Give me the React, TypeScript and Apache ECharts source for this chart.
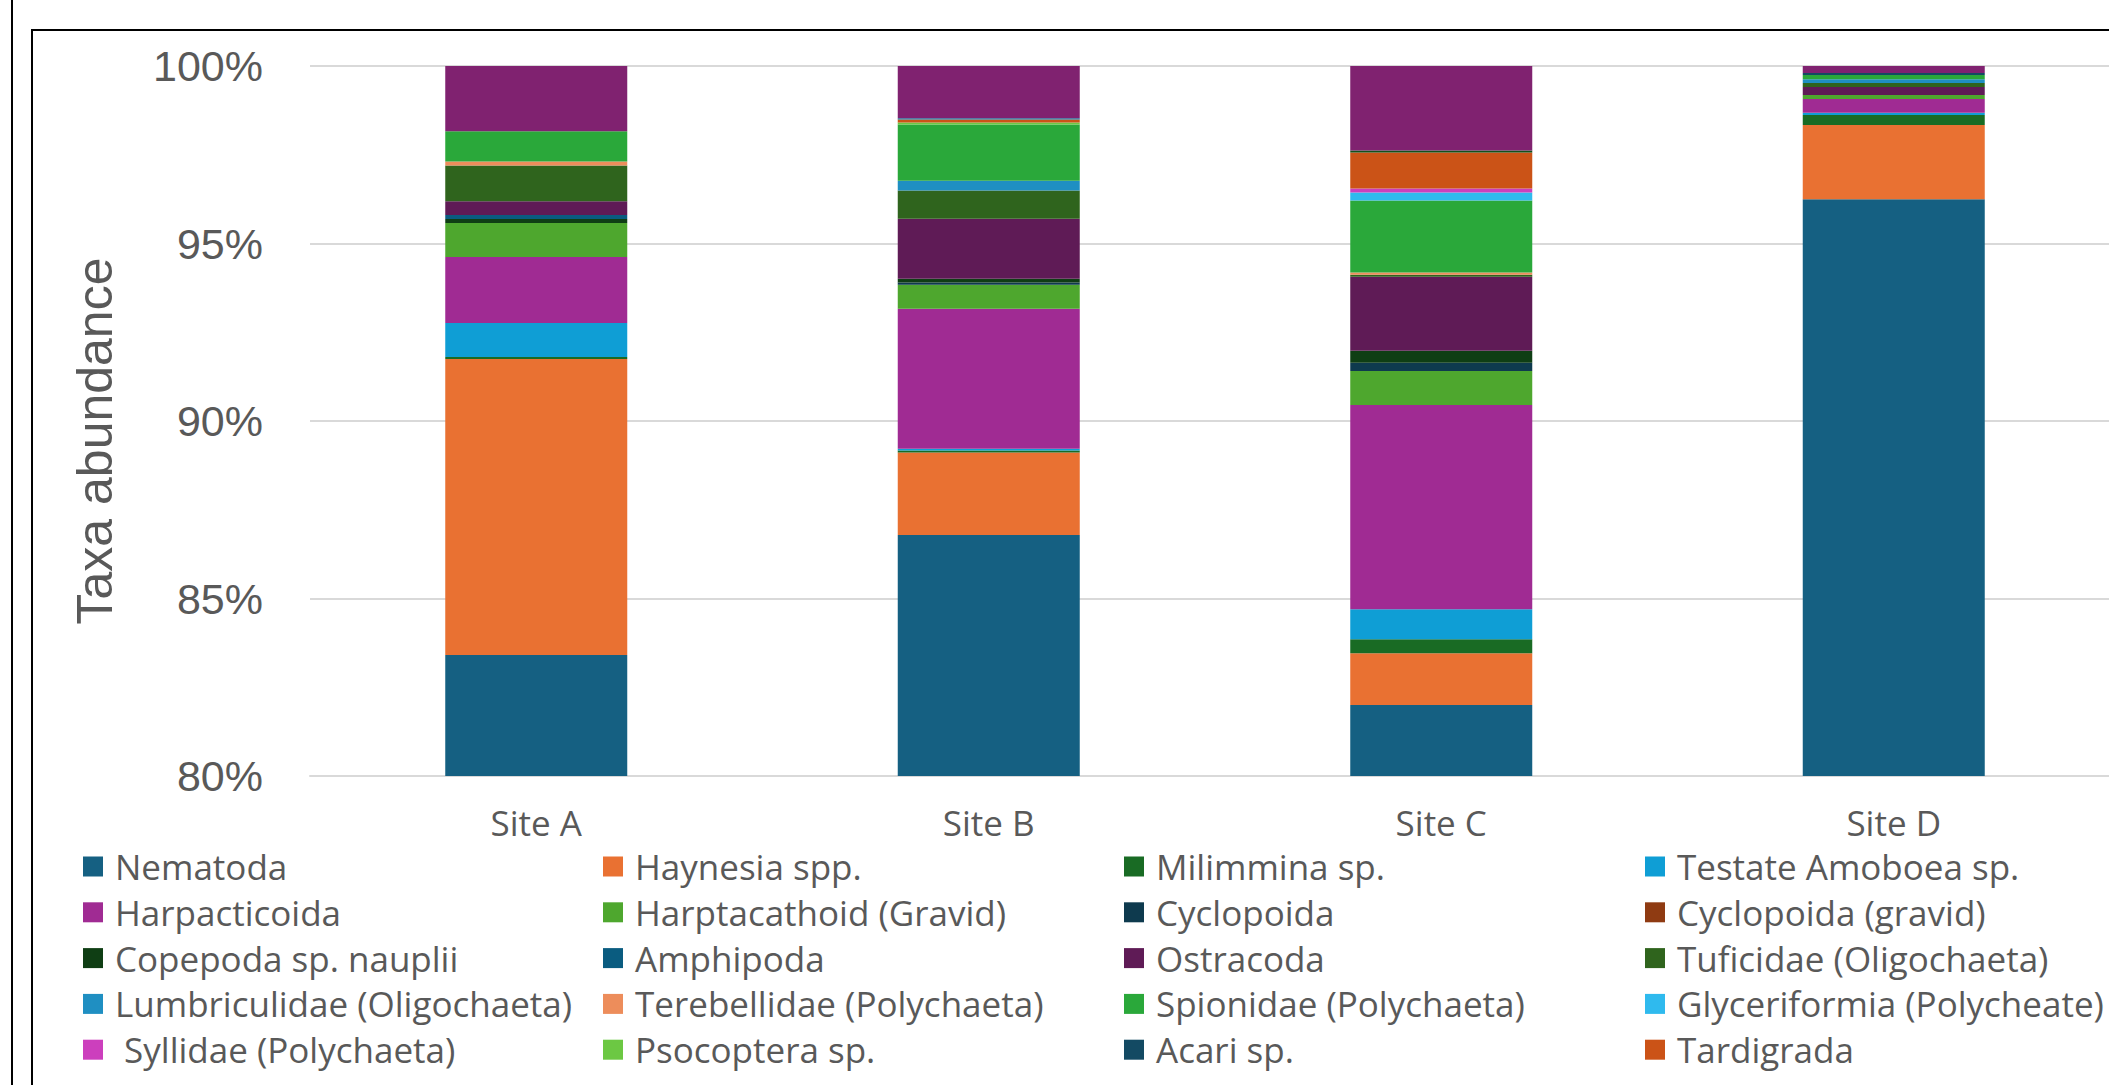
import React, { useEffect, useRef } from "react";
import * as echarts from "echarts";

// Sites along the x axis
const sites = ["Site A", "Site B", "Site C", "Site D"];

// Relative abundance (%) of each taxon per site
const nematoda = [83.41, 86.79, 82.0, 96.25];
const haynesia = [8.34, 2.32, 1.46, 2.09];
const milimmina = [0.05, 0.06, 0.39, 0.28];
const testateAmoboea = [0.96, 0.05, 0.85, 0.06];
const harpacticoida = [1.86, 3.94, 5.75, 0.39];
const harptacathoidGravid = [0.96, 0.68, 0.96, 0.11];
const cyclopoida = [0, 0.06, 0.23, 0];
const cyclopoidaGravid = [0, 0, 0, 0];
const copepodaNauplii = [0.11, 0.11, 0.34, 0];
const amphipoda = [0.11, 0, 0, 0];
const ostracoda = [0.39, 1.69, 2.08, 0.23];
const tuficidae = [1.01, 0.79, 0.06, 0.11];
const lumbriculidae = [0, 0.28, 0, 0.11];
const terebellidae = [0.11, 0, 0.06, 0];
const spionidae = [0.85, 1.58, 2.03, 0.12];
const glyceriformia = [0, 0, 0.23, 0];
const syllidae = [0, 0, 0.11, 0];
const psocoptera = [0, 0.06, 0, 0];
const acari = [0, 0, 0, 0.05];
const tardigrada = [0, 0.08, 1.01, 0];
const taxon21 = [0, 0, 0.06, 0];
const taxon22 = [0, 0.04, 0, 0];
const taxon23 = [1.84, 1.47, 2.38, 0.2];

// Series names, in stacking order (bottom to top)
const taxonNames = [
  "Nematoda",
  "Haynesia spp.",
  "Milimmina sp.",
  "Testate Amoboea sp.",
  "Harpacticoida",
  "Harptacathoid (Gravid)",
  "Cyclopoida",
  "Cyclopoida (gravid)",
  "Copepoda sp. nauplii",
  "Amphipoda",
  "Ostracoda",
  "Tuficidae (Oligochaeta)",
  "Lumbriculidae (Oligochaeta)",
  "Terebellidae (Polychaeta)",
  "Spionidae (Polychaeta)",
  "Glyceriformia (Polycheate)",
  " Syllidae (Polychaeta)",
  "Psocoptera sp.",
  "Acari sp.",
  "Tardigrada",
  "Taxon 21",
  "Taxon 22",
  "Taxon 23",
];

const taxonValues = [
  nematoda,
  haynesia,
  milimmina,
  testateAmoboea,
  harpacticoida,
  harptacathoidGravid,
  cyclopoida,
  cyclopoidaGravid,
  copepodaNauplii,
  amphipoda,
  ostracoda,
  tuficidae,
  lumbriculidae,
  terebellidae,
  spionidae,
  glyceriformia,
  syllidae,
  psocoptera,
  acari,
  tardigrada,
  taxon21,
  taxon22,
  taxon23,
];

const taxonColors = [
  "#156082",
  "#E97132",
  "#196B24",
  "#0F9ED5",
  "#A02B93",
  "#4EA72E",
  "#0E3A4E",
  "#8F3B12",
  "#0F3E14",
  "#0A5C80",
  "#5F1B56",
  "#2F641D",
  "#1F8FC2",
  "#ED8D5B",
  "#2AA83A",
  "#2FBAEE",
  "#CC3FBD",
  "#6CC843",
  "#134A63",
  "#CB5317",
  "#13501B",
  "#0B76A0",
  "#802270",
];

// Y axis ticks (%)
const yMin = 80;
const yMax = 100;
const yStep = 5;

const legendCount = 20;
const legendColumnCount = 4;
const legendColumnLeft = [83, 603, 1124, 1645];

// Visible page area; the plot itself runs a little past the right edge
const WIDTH = 2109;
const HEIGHT = 1085;
const CHART_WIDTH = 2130;

export default function App() {
  const ref = useRef<HTMLDivElement>(null);

  useEffect(() => {
    if (!ref.current) return;
    const chart = echarts.init(ref.current, undefined, { renderer: "svg" });

    const legendNames = taxonNames.slice(0, legendCount);
    const legendColumns = legendColumnLeft.map((left, c) => ({
      left,
      names: legendNames.filter((_, i) => i % legendColumnCount === c),
    }));

    const textGrey = "#595959";
    const gridGrey = "#D9D9D9";
    const frame = { stroke: "#000000", lineWidth: 2 };

    chart.setOption({
      animation: false,
      backgroundColor: "#ffffff",
      grid: { left: 310, right: 10, top: 66, bottom: HEIGHT - 776, containLabel: false },
      xAxis: {
        type: "category",
        data: sites,
        axisTick: { show: false },
        axisLine: { show: true, lineStyle: { color: gridGrey, width: 2 } },
        axisLabel: {
          color: textGrey,
          fontFamily: "Open Sans",
          fontSize: 35,
          margin: 29,
        },
      },
      yAxis: {
        type: "value",
        min: yMin,
        max: yMax,
        interval: yStep,
        axisLine: { show: false },
        axisTick: { show: false },
        splitLine: { show: true, lineStyle: { color: gridGrey, width: 2 } },
        axisLabel: {
          formatter: "{value}%",
          color: textGrey,
          fontFamily: "Liberation Sans",
          fontSize: 43,
          margin: 47,
        },
      },
      legend: legendColumns.map((col) => ({
        data: col.names,
        orient: "vertical",
        left: col.left,
        top: 849,
        padding: 0,
        itemWidth: 20,
        itemHeight: 20,
        itemGap: 10.8,
        icon: "rect",
        selectedMode: false,
        textStyle: {
          color: textGrey,
          fontFamily: "Open Sans",
          fontSize: 35,
          lineHeight: 34,
          padding: [0, 0, 0, 7],
        },
      })),
      series: taxonNames.map((name, i) => ({
        name,
        type: "bar",
        stack: "total",
        barWidth: 182,
        data: taxonValues[i],
        itemStyle: { color: taxonColors[i] },
        emphasis: { disabled: true },
      })),
      graphic: [
        { type: "line", shape: { x1: 12, y1: 0, x2: 12, y2: HEIGHT }, style: frame },
        { type: "line", shape: { x1: 32, y1: 30, x2: 32, y2: HEIGHT }, style: frame },
        { type: "line", shape: { x1: 31, y1: 30, x2: CHART_WIDTH, y2: 30 }, style: frame },
        {
          type: "text",
          x: 95,
          y: 441,
          rotation: Math.PI / 2,
          style: {
            text: "Taxa abundance",
            fill: textGrey,
            fontFamily: "Liberation Sans",
            fontSize: 50,
            align: "center",
            verticalAlign: "middle",
          },
        },
      ],
    });

    return () => chart.dispose();
  }, []);

  return (
    <div
      style={{
        position: "fixed",
        left: 0,
        top: 0,
        width: WIDTH,
        height: HEIGHT,
        overflow: "hidden",
        background: "#ffffff",
      }}
    >
      <div ref={ref} style={{ width: CHART_WIDTH, height: HEIGHT }} />
    </div>
  );
}
